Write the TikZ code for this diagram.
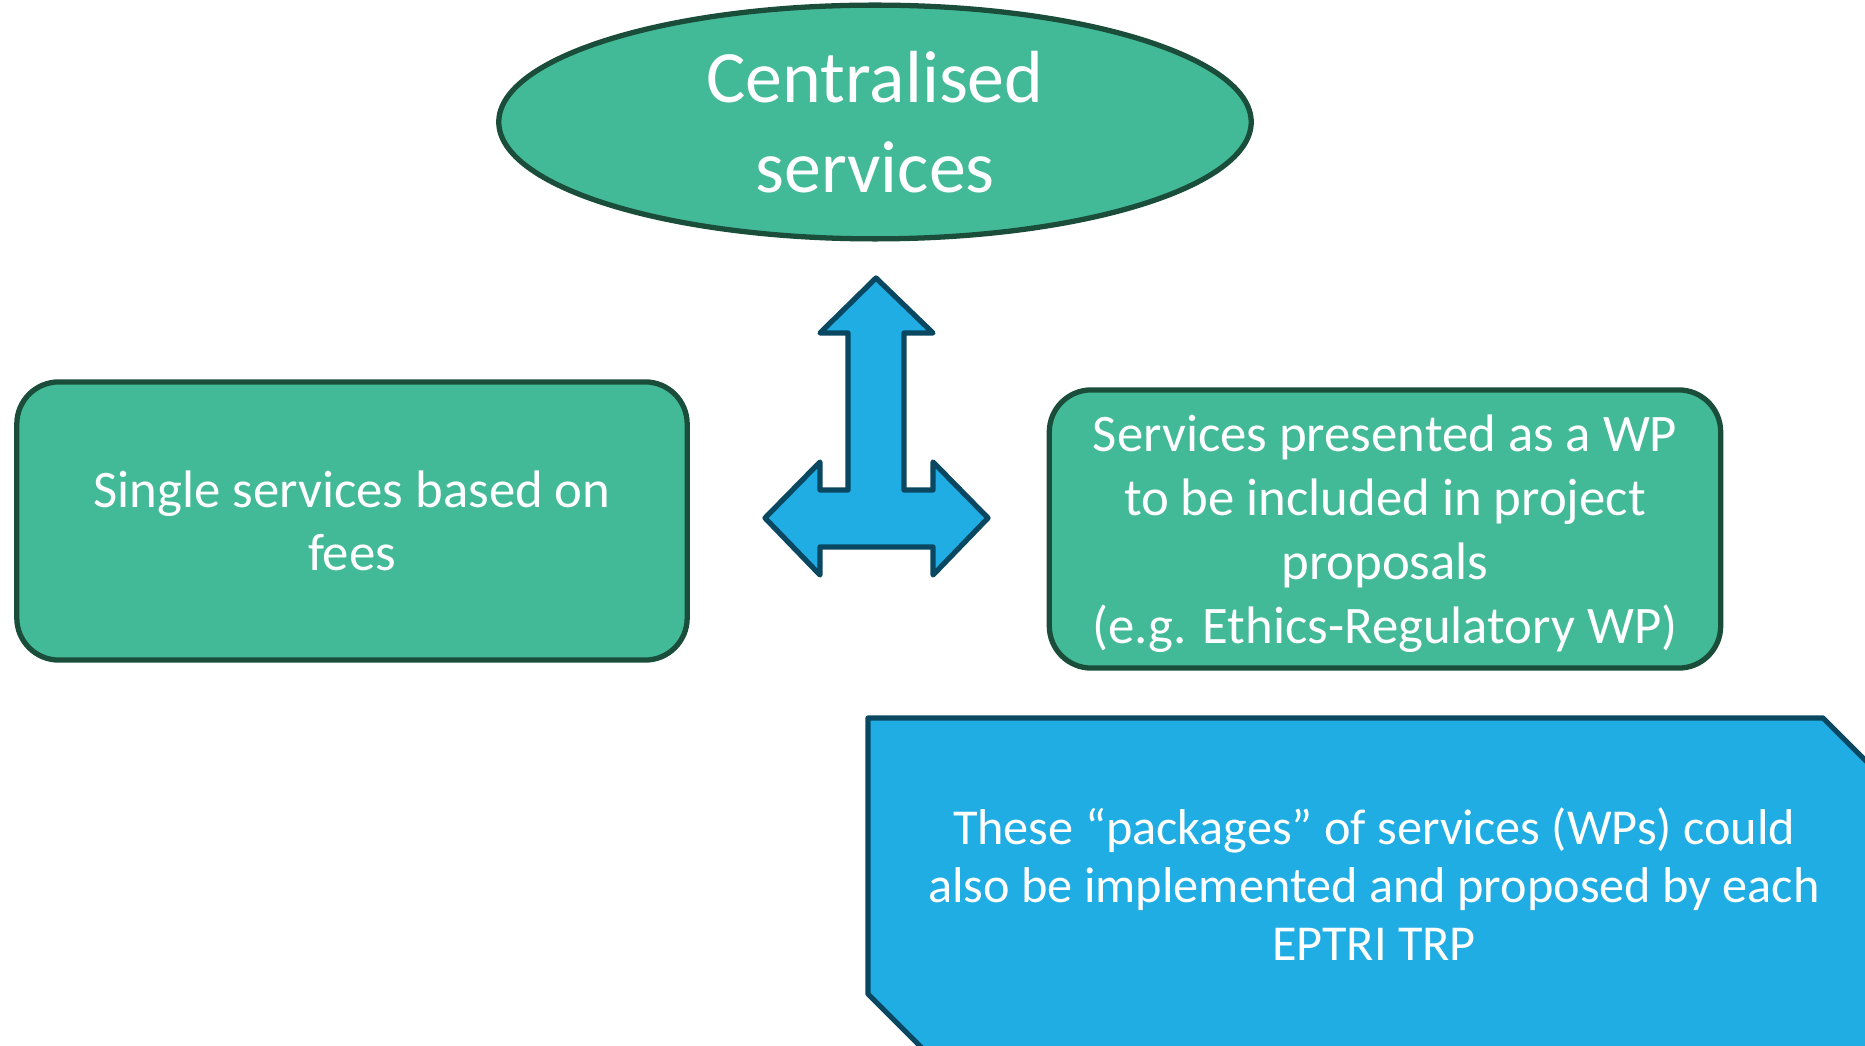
\documentclass[tikz,border=0pt]{standalone}
\usepackage{fontspec}
\setmainfont{Carlito}
\usetikzlibrary{shapes.geometric}

\definecolor{svcgreen}{RGB}{67,186,151}
\definecolor{svcgreenline}{RGB}{26,77,58}
\definecolor{svcblue}{RGB}{31,173,228}
\definecolor{svcblueline}{RGB}{10,72,98}

\begin{document}
\begin{tikzpicture}[x=0.01cm, y=-0.01cm]
     % Define styles
     \tikzstyle{greenbox} = [draw=svcgreenline, fill=svcgreen, line width=1.5pt, text=white, align=center]
     \tikzstyle{bluebox} = [draw=svcblueline, fill=svcblue, line width=1.5pt, line join=round]

     \useasboundingbox (0,0) rectangle (1865,1046);
     \clip (0,0) rectangle (1865,1046);

     % Centralised services
     \node[greenbox, ellipse, minimum width=7.52cm, minimum height=2.2cm,
           font=\fontsize{21}{25.6}\selectfont] (central) at (875,122) {Centralised\\services};

     % Single services
     \node[greenbox, rectangle, rounded corners=0.42cm, minimum width=6.7cm, minimum height=2.78cm,
           font=\fontsize{15}{17.9}\selectfont] (single) at (352,521) {Single services based on\\fees};

     % Services as a WP
     \node[greenbox, rectangle, rounded corners=0.42cm, minimum width=6.71cm, minimum height=2.78cm,
           font=\fontsize{15}{18.2}\selectfont] (wp) at (1385,529)
           {\rule{0pt}{13pt}Services presented as a WP\\to be included in project\\proposals\\(e.g. Ethics-Regulatory WP)};

     % Three way arrow
     \draw[bluebox] (876,278) -- (933,333) -- (904,333) -- (904,490) -- (933,490) -- (933,462)
          -- (988,518) -- (933,575) -- (933,547) -- (820,547) -- (820,575) -- (765,518)
          -- (820,462) -- (820,490) -- (848,490) -- (848,333) -- (820,333) -- cycle;

     % Packages of services
     \draw[bluebox] (868,718) -- (1823,718) -- (1880,775) -- (1880,1051) -- (925,1051) -- (868,994) -- cycle;
     \node[text=white, align=center, font=\fontsize{14.3}{16.5}\selectfont] (trp) at (1374,884)
          {These “packages” of services (WPs) could\\also be implemented and proposed by each\\EPTRI TRP};

\end{tikzpicture}
\end{document}
